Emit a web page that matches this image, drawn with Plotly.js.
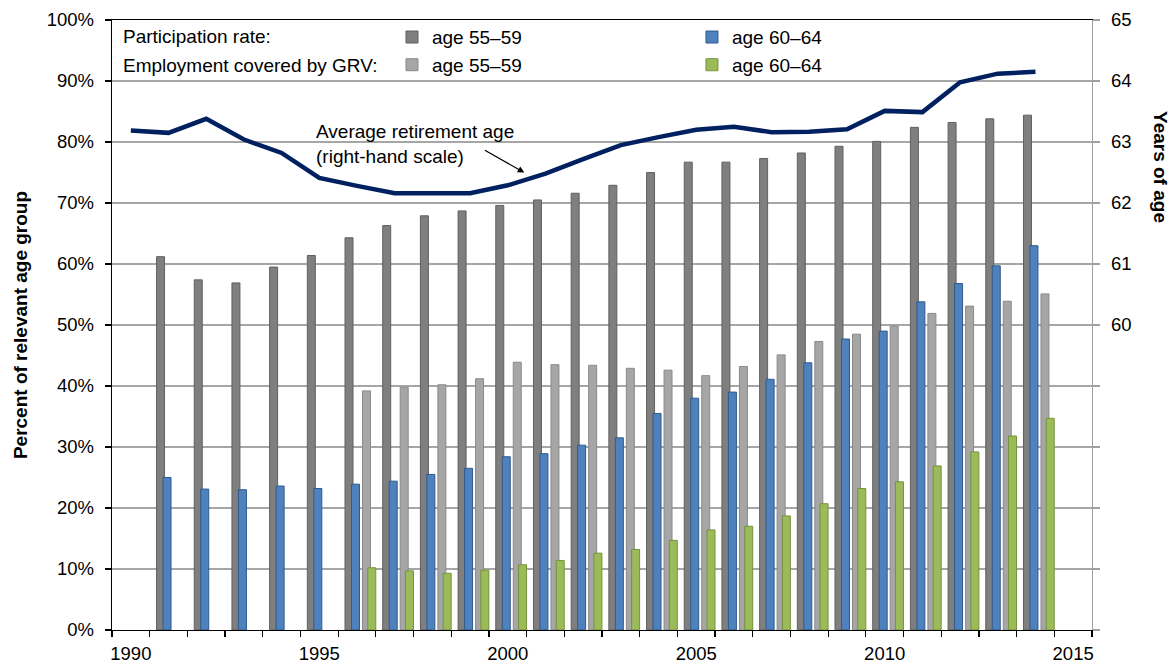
<!DOCTYPE html>
<html>
<head>
<meta charset="utf-8">
<script src="https://cdn.plot.ly/plotly-3.0.1.min.js"></script>
<style>
  html, body { margin: 0; padding: 0; background: #fff; }
  #chart { width: 1175px; height: 666px; }
</style>
</head>
<body>
<div id="chart"></div>
<script>
// ---- Data ----
const lineYears = [1990,1991,1992,1993,1994,1995,1996,1997,1998,1999,2000,2001,2002,2003,2004,2005,2006,2007,2008,2009,2010,2011,2012,2013,2014];
const retirementAge = [63.19,63.15,63.38,63.04,62.82,62.41,62.28,62.16,62.16,62.16,62.29,62.48,62.72,62.95,63.08,63.20,63.25,63.16,63.17,63.21,63.51,63.49,63.98,64.12,64.15];

const participationYears = [1991,1992,1993,1994,1995,1996,1997,1998,1999,2000,2001,2002,2003,2004,2005,2006,2007,2008,2009,2010,2011,2012,2013,2014];
const participation5559 = [61.2,57.4,56.9,59.5,61.4,64.3,66.3,67.9,68.7,69.6,70.5,71.6,72.9,75.0,76.7,76.7,77.3,78.2,79.3,80.1,82.4,83.2,83.8,84.4];
const participation6064 = [25.0,23.1,23.0,23.6,23.2,23.9,24.4,25.5,26.5,28.4,28.9,30.3,31.5,35.5,38.0,39.0,41.1,43.8,47.7,49.0,53.8,56.8,59.7,63.0];

const grvYears = [1996,1997,1998,1999,2000,2001,2002,2003,2004,2005,2006,2007,2008,2009,2010,2011,2012,2013,2014];
const grv5559 = [39.2,39.8,40.2,41.2,43.9,43.5,43.4,42.9,42.6,41.7,43.2,45.1,47.3,48.5,49.8,51.9,53.1,53.9,55.1];
const grv6064 = [10.2,9.7,9.3,9.8,10.7,11.4,12.6,13.2,14.7,16.4,17.0,18.7,20.7,23.2,24.3,26.9,29.2,31.8,34.7];

const xTickYears = [1990,1995,2000,2005,2010,2015];
const leftTicks = [0,10,20,30,40,50,60,70,80,90,100];
const rightTicks = [55,56,57,58,59,60,61,62,63,64,65];
const rightLabelled = [60,61,62,63,64,65];

const seriesNames = ['age 55\u201359','age 60\u201364'];
const rowLabels = ['Participation rate:','Employment covered by GRV:'];

// ---- Styling ----
const FONT = '"Liberation Sans", Arial, Helvetica, sans-serif';
const C_DARK = '#7f7f7f', C_DARK_L = '#606060';
const C_BLUE = '#4f81bd', C_BLUE_L = '#2f5a8e';
const C_LIGHT = '#a6a6a6', C_LIGHT_L = '#8a8a8a';
const C_GREEN = '#9bbb59', C_GREEN_L = '#76923c';
const C_LINE = '#002060';
const BW = 0.212;

const minorTickVals = [lineYears[0] - 0.5].concat(lineYears.map(y => y + 0.5), [2015.5]);

const traces = [
  {type:'bar', x: participationYears, y: participation5559, name: seriesNames[0],
   marker:{color:C_DARK, line:{color:C_DARK_L, width:1}}, width: BW, offset: -0.318,
   legend:'legend', legendgroup:'a', hoverinfo:'x+y'},
  {type:'bar', x: participationYears, y: participation6064, name: seriesNames[1],
   marker:{color:C_BLUE, line:{color:C_BLUE_L, width:1}}, width: BW, offset: -0.146,
   legend:'legend2', legendgroup:'b', hoverinfo:'x+y'},
  {type:'bar', x: grvYears, y: grv5559, name: seriesNames[0],
   marker:{color:C_LIGHT, line:{color:C_LIGHT_L, width:1}}, width: BW, offset: 0.146,
   legend:'legend', legendgroup:'c', hoverinfo:'x+y'},
  {type:'bar', x: grvYears, y: grv6064, name: seriesNames[1],
   marker:{color:C_GREEN, line:{color:C_GREEN_L, width:1}}, width: BW, offset: 0.286,
   legend:'legend2', legendgroup:'d', hoverinfo:'x+y'},
  {type:'scatter', mode:'lines', x: lineYears, y: retirementAge, yaxis:'y2',
   line:{color:C_LINE, width:4.5}, showlegend:false, name:'Average retirement age'}
];

const legendCommon = {
  orientation:'v', yanchor:'top', xanchor:'left', y: 1.003,
  bgcolor:'rgba(0,0,0,0)', borderwidth:0, tracegroupgap: 0,
  font:{family:FONT, size:19, color:'#000'}, itemwidth:30, itemclick:false, itemdoubleclick:false
};

const layout = {
  width:1175, height:666,
  margin:{l:112, r:83, t:20, b:36, pad:0},
  paper_bgcolor:'#fff', plot_bgcolor:'#fff',
  font:{family:FONT, size:19, color:'#000'},
  barmode:'overlay',
  showlegend:true,
  legend: Object.assign({}, legendCommon, {x: 0.2857}),
  legend2: Object.assign({}, legendCommon, {x: 0.5918}),
  xaxis:{
    range:[1989.5, 2015.5], tickmode:'array', tickvals: xTickYears,
    ticktext: xTickYears.map(String), ticks:'', showgrid:false, zeroline:false,
    showline:true, linecolor:'#000', linewidth:1.3, mirror:true,
    ticklabelstandoff: 6,
    tickfont:{family:FONT, size:18.5, color:'#000'},
    minor:{tickmode:'array', tickvals: minorTickVals, ticks:'outside', ticklen:6, tickcolor:'#000', tickwidth:1.2, showgrid:false}
  },
  yaxis:{
    range:[0,100], tickmode:'array', tickvals:leftTicks, ticktext:leftTicks.map(v => v + '%'),
    ticks:'outside', ticklen:6, tickcolor:'#000', tickwidth:1.2,
    ticklabelstandoff: 7,
    showline:true, linecolor:'#000', linewidth:1.3,
    showgrid:true, gridcolor:'#a6a6a6', gridwidth:1.2, zeroline:false,
    tickfont:{family:FONT, size:18.5, color:'#000'},
    title:{text:'<b>Percent of relevant age group</b>', font:{family:FONT, size:19, color:'#000'}, standoff:14}
  },
  yaxis2:{
    range:[55,65], overlaying:'y', side:'right', tickmode:'array', tickvals:rightTicks,
    ticktext: rightTicks.map(v => rightLabelled.indexOf(v) >= 0 ? String(v) : ''),
    ticks:'outside', ticklen:7, tickcolor:'#a0a0a0', tickwidth:1.2,
    ticklabelstandoff: 7,
    showline:true, linecolor:'#a0a0a0', linewidth:1.3, showgrid:false, zeroline:false,
    tickfont:{family:FONT, size:18.5, color:'#000'}
  },
  annotations:[
    {xref:'paper', yref:'paper', x:0.0095, y:0.973, xanchor:'left', yanchor:'middle',
     text: rowLabels[0], showarrow:false, font:{family:FONT, size:19, color:'#000'}},
    {xref:'paper', yref:'paper', x:0.0095, y:0.925, xanchor:'left', yanchor:'middle',
     text: rowLabels[1], showarrow:false, font:{family:FONT, size:19, color:'#000'}},
    {xref:'x', yref:'y', x:1994.87, y:79.7, xanchor:'left', yanchor:'middle', align:'left',
     text:'Average retirement age<br>(right-hand scale)', showarrow:false,
     font:{family:FONT, size:19, color:'#000'}},
    {xref:'x', yref:'y', x:2000.44, y:75.0, ax:-41, ay:-23, text:'', showarrow:true,
     arrowhead:2, arrowsize:1.1, arrowwidth:1.2, arrowcolor:'#000'},
    {xref:'paper', yref:'paper', x:1.0, xshift:69, y:0.759, xanchor:'center', yanchor:'middle',
     text:'<b>Years of age</b>', textangle:90, showarrow:false,
     font:{family:FONT, size:19, color:'#000'}}
  ]
};

Plotly.newPlot('chart', traces, layout, {displayModeBar:false, staticPlot:true});
</script>
</body>
</html>
